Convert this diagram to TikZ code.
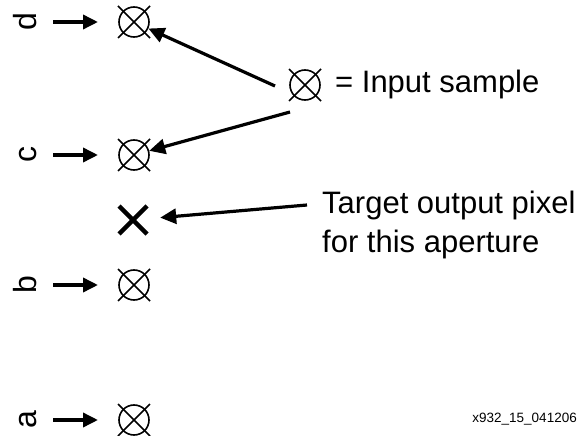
\documentclass[tikz,border=0pt]{standalone}
\usepackage{fontspec}
\setmainfont{Liberation Sans}
\usetikzlibrary{arrows.meta}
\begin{document}
\begin{tikzpicture}[x=1pt,y=-1pt,
  sample/.style={circle, draw, line width=1.6pt, minimum size=30pt, inner sep=0pt},
  xline/.style={line width=1.6pt},
  bigx/.style={line width=4.5pt},
  letter/.style={rotate=90, anchor=base, inner sep=0pt, font=\fontsize{32}{38}\selectfont},
  label/.style={anchor=base west, inner sep=0pt, align=left, font=\fontsize{31}{39}\selectfont},
  inarrow/.style={line width=3.5pt, -{Triangle[length=15pt,width=14pt]}},
  callout/.style={line width=3.2pt, -{Triangle[length=16pt,width=15pt]}}]
\useasboundingbox (0,0) rectangle (582,436);
% samples
\node[sample] (d) at (134,22) {};
\node[sample] (c) at (134,155) {};
\node[sample] (b) at (134,285) {};
\node[sample] (a) at (134,420) {};
\node[sample] (leg) at (305,85) {};
\foreach \n in {d,c,b,a,leg}{
  \draw[xline] ([shift={(-16pt,-16pt)}]\n.center) -- ([shift={(16pt,16pt)}]\n.center);
  \draw[xline] ([shift={(-16pt,16pt)}]\n.center) -- ([shift={(16pt,-16pt)}]\n.center);
}
% target output pixel
\node[minimum width=54pt, minimum height=32pt, inner sep=0pt] (t) at (133,220) {};
\draw[bigx] ([shift={(-14pt,-14pt)}]t.center) -- ([shift={(14pt,14pt)}]t.center);
\draw[bigx] ([shift={(-14pt,14pt)}]t.center) -- ([shift={(14pt,-14pt)}]t.center);
% letters
\node[letter] (ld) at (36,22) {d};
\node[letter] (lc) at (36,155) {c};
\node[letter] (lb) at (36,285) {b};
\node[letter] (la) at (36,420) {a};
\foreach \l/\n in {ld/d,lc/c,lb/b,la/a}{
  \draw[inarrow, shorten <=3pt, shorten >=36pt] (\l.center -| 50,0) -- (\n.center);
}
% legend
\node[label] (legtxt) at (335,93) {= Input sample};
\coordinate (p1) at (275,86);
\coordinate (p2) at (290,112);
\draw[callout] (p1) -- (d);
\draw[callout] (p2) -- (c);
% target label
\node[label] (ttxt) at (322,252) {Target output pixel\\for this aperture};
\coordinate (p3) at (307,205);
\draw[callout] (p3) -- (t);
% id
\node[anchor=base east, inner sep=0pt, font=\fontsize{13.5}{16}\selectfont] (id) at (577,422) {x932\_15\_041206};
\end{tikzpicture}
\end{document}
